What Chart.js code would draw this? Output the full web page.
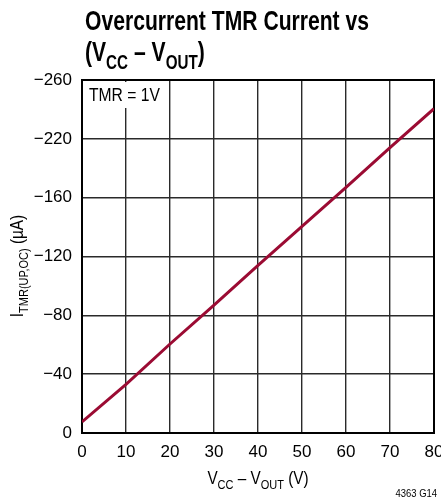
<!DOCTYPE html>
<html>
<head>
<meta charset="utf-8">
<script src="https://cdn.jsdelivr.net/npm/chart.js@4/dist/chart.umd.min.js"></script>
<style>
  html, body { margin: 0; padding: 0; background: #fff; }
  #wrap { width: 441px; height: 502px; position: relative; }
</style>
</head>
<body>
<div id="wrap"><canvas id="c" width="441" height="502"></canvas></div>
<script>
// ---- data ----
const vDiff = [0, 10, 20, 30, 40, 50, 60, 70, 80];                        // VCC - VOUT (V)
const iTmr  = [-7.5, -33, -60.5, -87, -114, -140.5, -167, -194, -220.5];  // current, axis units
const yTickValues = [0, -40, -80, -120, -160, -200, -240];
const yTickLabels = ['0', '\u221240', '\u221280', '\u2212120', '\u2212160', '\u2212220', '\u2212260'];
const xTickValues = [0, 10, 20, 30, 40, 50, 60, 70, 80];

const FONT = '"Liberation Sans", Arial, sans-serif';

function fontStr(size, bold) { return (bold ? 'bold ' : '') + size + 'px ' + FONT; }

function measureRich(ctx, segs, size, bold) {
  return segs.map(s => { ctx.font = fontStr(s.sub ? size * 0.72 : size, bold); return ctx.measureText(s.t).width; });
}

// draws text with optional subscripts, horizontally condensed by hs
function richText(ctx, segs, x, y, size, align, bold, hs) {
  const w = measureRich(ctx, segs, size, bold);
  const total = w.reduce((a, b) => a + b, 0) * hs;
  let startX = align === 'center' ? x - total / 2 : (align === 'right' ? x - total : x);
  ctx.save();
  ctx.translate(startX, y);
  ctx.scale(hs, 1);
  let cx = 0;
  segs.forEach((s, i) => {
    ctx.font = fontStr(s.sub ? size * 0.72 : size, bold);
    ctx.fillText(s.t, cx, s.sub ? size * 0.27 : 0);
    cx += w[i];
  });
  ctx.restore();
}

const textPlugin = {
  id: 'texts',
  afterDraw(chart) {
    const ctx = chart.ctx;
    const a = chart.chartArea;
    ctx.save();
    ctx.fillStyle = '#000';
    ctx.textBaseline = 'alphabetic';
    ctx.textAlign = 'left';
    // title, condensed to the reference width
    const line1 = [{t: 'Overcurrent TMR Current vs'}];
    const w1 = measureRich(ctx, line1, 28, true).reduce((p, q) => p + q, 0);
    const hsT = 284 / w1;
    richText(ctx, line1, 85, 30, 28, 'left', true, hsT);
    richText(ctx, [{t: '(V'}, {t: 'CC', sub: true}, {t: ' \u2013 V'}, {t: 'OUT', sub: true}, {t: ')'}], 85, 61, 28, 'left', true, hsT);
    // x axis title
    richText(ctx, [{t: 'V'}, {t: 'CC', sub: true}, {t: ' \u2013 V'}, {t: 'OUT', sub: true}, {t: ' (V)'}], 258, 484, 18, 'center', false, 0.85);
    // y axis title
    ctx.save();
    ctx.translate(23, 266);
    ctx.rotate(-Math.PI / 2);
    richText(ctx, [{t: 'I'}, {t: 'TMR(UP,OC)', sub: true}, {t: ' (\u00b5A)'}], 0, 0, 18, 'center', false, 0.85);
    ctx.restore();
    // annotation box
    ctx.fillStyle = '#fff';
    ctx.fillRect(a.left + 2, a.top + 2, 80, 26);
    ctx.fillStyle = '#000';
    richText(ctx, [{t: 'TMR = 1V'}], a.left + 7, a.top + 21, 18, 'left', false, 0.87);
    // figure id
    richText(ctx, [{t: '4363 G14'}], 437, 497, 10.5, 'right', false, 0.9);
    ctx.restore();
  }
};

new Chart(document.getElementById('c'), {
  type: 'line',
  data: {
    datasets: [{
      data: vDiff.map((v, i) => ({x: v, y: iTmr[i]})),
      borderColor: '#9b0b33',
      borderWidth: 3,
      pointRadius: 0,
      tension: 0,
      fill: false
    }]
  },
  options: {
    responsive: false,
    animation: false,
    devicePixelRatio: 1,
    layout: { padding: { left: 0, right: 7, top: 80, bottom: 0 } },
    plugins: { legend: { display: false }, tooltip: { enabled: false }, title: { display: false } },
    scales: {
      x: {
        type: 'linear', min: 0, max: 80,
        afterBuildTicks: s => { s.ticks = xTickValues.map(v => ({value: v})); },
        afterFit: s => { s.height = 69; s.paddingLeft = 0; s.paddingRight = 0; },
        ticks: { color: '#000', font: { family: FONT, size: 17 }, padding: 9, maxRotation: 0, autoSkip: false },
        grid: { color: '#2a2a2a', lineWidth: 1.4, drawTicks: false },
        border: { color: '#000', width: 2 }
      },
      y: {
        type: 'linear', min: -240, max: 0, reverse: true,
        afterBuildTicks: s => { s.ticks = yTickValues.map(v => ({value: v})); },
        afterFit: s => { s.width = 82; s.paddingTop = 0; s.paddingBottom = 0; },
        ticks: {
          color: '#000', font: { family: FONT, size: 17 }, padding: 10, autoSkip: false,
          callback: v => { const i = yTickValues.indexOf(v); return i >= 0 ? yTickLabels[i] : ''; }
        },
        grid: { color: '#2a2a2a', lineWidth: 1.4, drawTicks: false },
        border: { color: '#000', width: 2 }
      },
      x2: { type: 'linear', position: 'top', display: true, min: 0, max: 80,
        ticks: { display: false }, grid: { display: false, drawTicks: false }, border: { color: '#000', width: 2 },
        afterFit: s => { s.height = 0; s.paddingLeft = 0; s.paddingRight = 0; } },
      y2: { type: 'linear', position: 'right', display: true, min: 0, max: 1,
        ticks: { display: false }, grid: { display: false, drawTicks: false }, border: { color: '#000', width: 2 },
        afterFit: s => { s.width = 0; s.paddingTop = 0; s.paddingBottom = 0; } }
    }
  },
  plugins: [textPlugin]
});
</script>
</body>
</html>
